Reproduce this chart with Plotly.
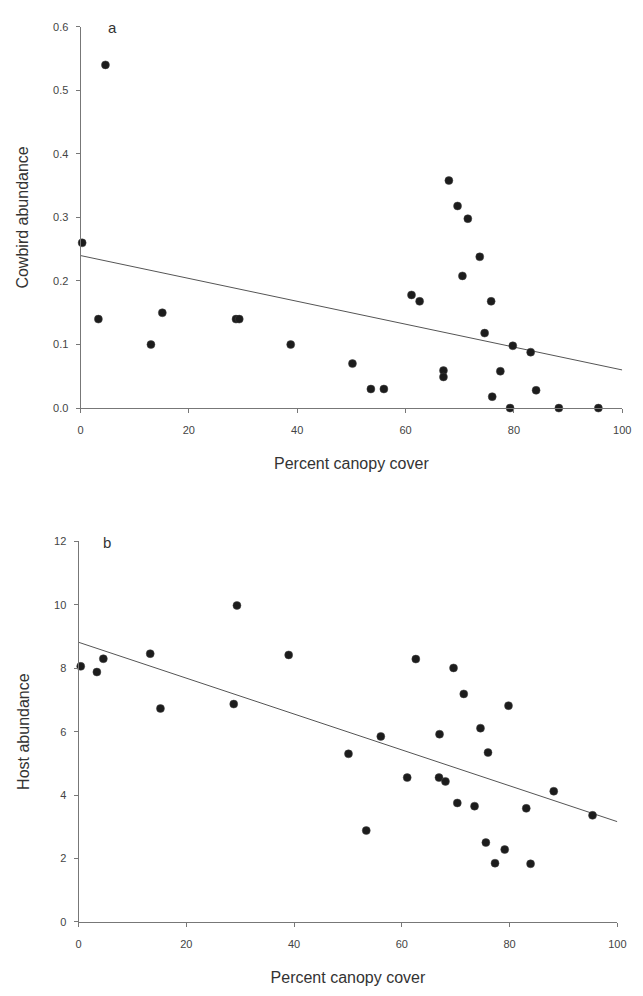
import plotly.graph_objects as go

# Panel a: cowbird abundance vs percent canopy cover
canopy_a = [4.6, 0.3, 3.3, 13.0, 15.1, 28.7, 29.3, 38.8, 50.2, 53.6, 56.0, 61.1, 62.6,
            67.0, 67.0, 68.0, 69.6, 71.5, 70.5, 73.7, 75.8, 74.6, 76.0, 77.5, 79.3,
            79.8, 83.1, 84.1, 88.3, 95.6]
cowbird = [0.54, 0.26, 0.14, 0.10, 0.15, 0.14, 0.14, 0.10, 0.07, 0.03, 0.03, 0.178, 0.168,
           0.059, 0.049, 0.358, 0.318, 0.298, 0.208, 0.238, 0.168, 0.118, 0.018, 0.058, 0.0,
           0.098, 0.088, 0.028, 0.0, 0.0]

# Panel b: host abundance vs percent canopy cover
canopy_b = [0.4, 3.4, 4.6, 13.3, 15.2, 29.4, 28.8, 39.0, 50.1, 53.4, 56.1, 61.0, 62.6,
            67.0, 66.9, 68.1, 69.6, 70.3, 71.5, 73.5, 74.6, 76.0, 75.6, 77.3, 79.1,
            79.8, 83.1, 83.9, 88.2, 95.4]
host = [8.06, 7.88, 8.30, 8.46, 6.73, 9.98, 6.87, 8.42, 5.30, 2.88, 5.85, 4.55, 8.29,
        5.92, 4.55, 4.43, 8.01, 3.75, 7.19, 3.65, 6.11, 5.34, 2.50, 1.85, 2.28,
        6.82, 3.58, 1.83, 4.12, 3.36]

# Regression lines (endpoints)
fit_x = [0, 100]
fit_a = [0.24, 0.06]
fit_b = [8.82, 3.16]

x_ticks = [0, 20, 40, 60, 80, 100]
ya_ticks = [0.0, 0.1, 0.2, 0.3, 0.4, 0.5, 0.6]
yb_ticks = [0, 2, 4, 6, 8, 10, 12]

W, H = 643, 996
FONT = "Liberation Sans, Arial, sans-serif"
TXT = "#333333"
TICKTXT = "#444444"
AX = "#777777"
DOT = "#1c1c1c"

fig = go.Figure()

fig.add_trace(go.Scatter(x=fit_x, y=fit_a, mode="lines", line=dict(color="#555555", width=1),
                         xaxis="x", yaxis="y", showlegend=False, hoverinfo="skip"))
fig.add_trace(go.Scatter(x=canopy_a, y=cowbird, mode="markers",
                         marker=dict(size=8, color=DOT, line=dict(color="#444444", width=0.5)),
                         xaxis="x", yaxis="y", showlegend=False, cliponaxis=False))
fig.add_trace(go.Scatter(x=fit_x, y=fit_b, mode="lines", line=dict(color="#555555", width=1),
                         xaxis="x2", yaxis="y2", showlegend=False, hoverinfo="skip"))
fig.add_trace(go.Scatter(x=canopy_b, y=host, mode="markers",
                         marker=dict(size=8, color=DOT, line=dict(color="#444444", width=0.5)),
                         xaxis="x2", yaxis="y2", showlegend=False, cliponaxis=False))

def xaxis(domain, anchor):
    return dict(domain=domain, anchor=anchor, range=[0, 100], tickvals=x_ticks,
                showgrid=False, zeroline=False, showline=True, linecolor=AX, linewidth=1,
                ticks="outside", ticklen=4, tickcolor=AX, tickwidth=1, ticklabelstandoff=8,
                tickfont=dict(family=FONT, size=11, color=TICKTXT),
                title=dict(text="Percent canopy cover", font=dict(family=FONT, size=16, color=TXT),
                           standoff=22))

def yaxis(domain, anchor, rng, ticks, fmt, title):
    return dict(domain=domain, anchor=anchor, range=rng, tickvals=ticks, tickformat=fmt,
                showgrid=False, zeroline=False, showline=True, linecolor=AX, linewidth=1,
                ticks="outside", ticklen=4, tickcolor=AX, tickwidth=1, ticklabelstandoff=5,
                tickfont=dict(family=FONT, size=11, color=TICKTXT),
                title=dict(text=title, font=dict(family=FONT, size=16, color=TXT), standoff=20))

fig.update_layout(
    width=W, height=H,
    margin=dict(l=0, r=0, t=0, b=0),
    paper_bgcolor="white", plot_bgcolor="white",
    xaxis=xaxis([79 / W, 631 / W], "y"),
    yaxis=yaxis([1 - 407 / H, 1 - 21 / H], "x", [0, 0.6], ya_ticks, ".1f", "Cowbird abundance"),
    xaxis2=xaxis([77 / W, 626 / W], "y2"),
    yaxis2=yaxis([1 - 927 / H, 1 - 542 / H], "x2", [0, 12], yb_ticks, "d", "Host abundance"),
    annotations=[
        dict(text="a", x=112 / W, y=1 - 22 / H, xref="paper", yref="paper", showarrow=False,
             font=dict(family=FONT, size=15, color=TXT), xanchor="center", yanchor="middle"),
        dict(text="b", x=106 / W, y=1 - 543 / H, xref="paper", yref="paper", showarrow=False,
             font=dict(family=FONT, size=15, color=TXT), xanchor="center", yanchor="middle"),
    ],
)

fig.write_html("out.html")
